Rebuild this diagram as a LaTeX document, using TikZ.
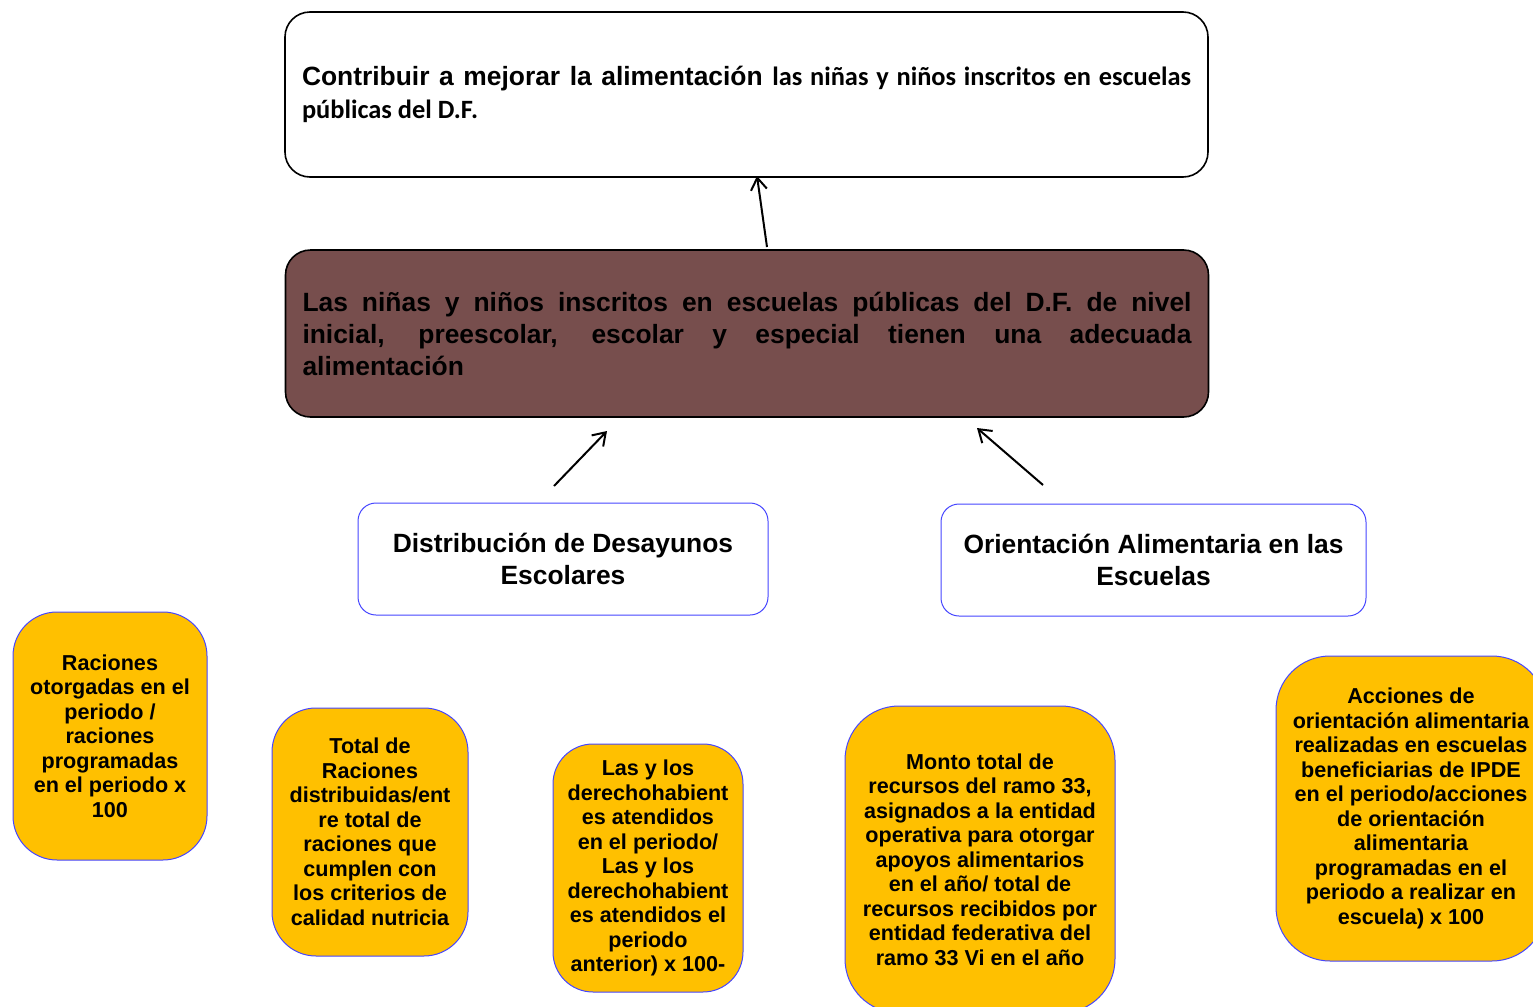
\documentclass[tikz,border=0pt]{standalone}
\usepackage{fontspec}
\setmainfont{Liberation Sans}
\newfontfamily\carlito{Carlito}
\usetikzlibrary{arrows.meta,positioning}
\hyphenpenalty=10000
\tolerance=9999
\definecolor{vino}{RGB}{119,78,77}
\definecolor{ambar}{RGB}{255,192,0}
\definecolor{azulborde}{RGB}{70,70,255}
\tikzset
{
    goalbox/.style    = {rectangle, rounded corners=12.5pt, draw=black, line width=0.8pt, fill=white, text width=444.5pt, inner xsep=8.5pt, align=justify, minimum height=82.5pt, font=\fontsize{13.2}{16.5}\selectfont\bfseries},
    purposebox/.style = {goalbox, fill=vino, minimum height=83.5pt, font=\fontsize{13.2}{16}\selectfont\bfseries},
    compbox/.style    = {rectangle, rounded corners=9pt, draw=azulborde, line width=0.5pt, fill=white, align=center, minimum height=56pt, font=\fontsize{13.2}{16}\selectfont\bfseries},
    indbox/.style     = {rectangle, rounded corners=#1, draw=azulborde, line width=0.5pt, fill=ambar, align=center, font=\fontsize{10.8}{12.25}\selectfont\bfseries},
    indbox/.default   = 22pt,
    arrow/.style      = {line width=1pt, ->, >={Straight Barb[length=6pt,width=8pt]}}
}

\begin{document}
\begin{tikzpicture}[x=0.5pt, y=-0.5pt]

	 \useasboundingbox (0,0) rectangle (1533,1007);

	 % fin y proposito
	 \node (goal)    [goalbox]    at (746.5, 94.5) {Contribuir a mejorar la alimentación {\carlito las niñas y niños inscritos en escuelas públicas del D.F.}};
	 \node (purpose) [purposebox] at (747, 333.5)  {Las niñas y niños inscritos en escuelas públicas del D.F. de nivel\linebreak inicial, preescolar, escolar y especial tienen una adecuada\linebreak alimentación};

	 % componentes
	 \node (desay)   [compbox, minimum width=205pt]   at (563, 559)    {Distribución de Desayunos\\Escolares};
	 \node (orient)  [compbox, minimum width=212.5pt] at (1153.5, 560) {Orientación Alimentaria en las\\Escuelas};

	 % indicadores
	 \node (ind1) [indbox, minimum width=97pt, minimum height=124pt]          at (110, 736)    {Raciones\\otorgadas en el\\periodo /\\raciones\\programadas\\en el periodo x\\100};
	 \node (ind2) [indbox, minimum width=98pt, minimum height=124pt]          at (370, 832)    {Total de\\Raciones\\distribuidas/ent\\re total de\\raciones que\\cumplen con\\los criterios de\\calidad nutricia};
	 \node (ind3) [indbox=20pt, minimum width=95pt, minimum height=124pt]     at (648, 868)    {Las y los\\derechohabient\\es atendidos\\en el periodo/\\Las y los\\derechohabient\\es atendidos el\\periodo\\anterior) x 100-};
	 \node (ind4) [indbox=27pt, minimum width=135pt, minimum height=153.5pt]  at (980, 859.5)  {Monto total de\\recursos del ramo 33,\\asignados a la entidad\\operativa para otorgar\\apoyos alimentarios\\en el año/ total de\\recursos recibidos por\\entidad federativa del\\ramo 33 Vi en el año};
	 \node (ind5) [indbox=27pt, minimum width=135pt, minimum height=152.5pt]  at (1411, 808.5) {Acciones de\\orientación alimentaria\\realizadas en escuelas\\beneficiarias de IPDE\\en el periodo/acciones\\de orientación\\alimentaria\\programadas en el\\periodo a realizar en\\escuela) x 100};

	 \coordinate (pa) at (767, 247);
	 \coordinate (ga) at (757, 176);
	 \coordinate (da) at (554, 486);
	 \coordinate (db) at (607, 431);
	 \coordinate (oa) at (1043, 485);
	 \coordinate (ob) at (977, 428);

	 \path
	    (pa)  edge[arrow]  node {} (ga)
	    (da)  edge[arrow]  node {} (db)
	    (oa)  edge[arrow]  node {} (ob);
\end{tikzpicture}
\end{document}
